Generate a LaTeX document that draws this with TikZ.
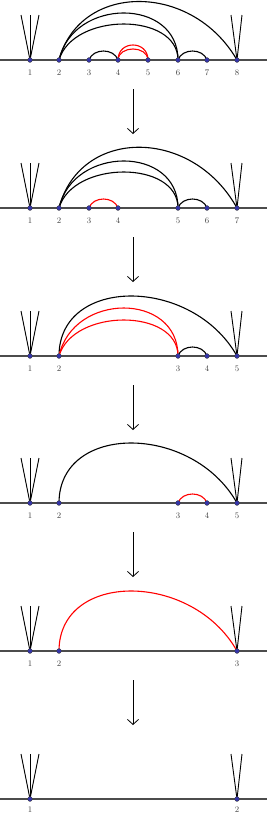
\documentclass[tikz,border=0pt]{standalone}
\usetikzlibrary{arrows.meta,calc}
\definecolor{dotblue}{RGB}{52,52,170}
\begin{document}
\begin{tikzpicture}[x=1pt,y=-1pt,
  dot/.style={circle,inner sep=0pt,minimum size=4.8pt,fill=dotblue,draw=black!75,line width=0.4pt},
  lab/.style={inner sep=0pt,text=black!75,font=\fontsize{8.5}{8.5}\selectfont},
  baseln/.style={draw=black!70,line width=1.3pt},
  arcb/.style={draw=black,line width=1.1pt},
  arcr/.style={draw=red,line width=1.1pt},
  vline/.style={draw=black,line width=0.9pt},
  steparrow/.style={draw=black,line width=0.8pt,-{Straight Barb[length=5pt,width=11pt,line width=0.8pt]}}]
\useasboundingbox (0,0) rectangle (267,815);

% ---------- baselines ----------
\foreach \yy/\nm in {60/A,208/B,356/C,503/D,651/E,799/F}{
  \coordinate (L\nm) at (0,\yy);
  \coordinate (R\nm) at (267,\yy);
  \draw[baseln] (L\nm) -- (R\nm);
}

% ---------- panel 1 ----------
\coordinate (a1) at (30,60); \coordinate (a2) at (59,60); \coordinate (a3) at (89,60);
\coordinate (a4) at (118,60); \coordinate (a5) at (148,60); \coordinate (a6) at (178,60);
\coordinate (a7) at (207,60); \coordinate (a8) at (237,60);
\draw[vline] (a1) -- ++(-9,-45); \draw[vline] (a1) -- ++(0,-45); \draw[vline] (a1) -- ++(9,-45);
\draw[vline] (a8) -- ++(-6,-45); \draw[vline] (a8) -- ++(5,-45);
\draw[arcb] (a2) .. controls +(21,-78) and +(-45,-78) .. (a8);
\draw[arcb] (a2) .. controls +(14,-62.7) and +(0,-62.7) .. (a6);
\draw[arcb] (a2) .. controls +(14,-48) and +(0,-48) .. (a6);
\draw[arcb] (a3) .. controls +(4,-12) and +(-4,-12) .. (a4);
\draw[arcr] (a4) .. controls +(0,-20) and +(0,-20) .. (a5);
\draw[arcr] (a4) .. controls +(1,-14.7) and +(-1,-14.7) .. (a5);
\draw[arcb] (a6) .. controls +(4,-12) and +(-4,-12) .. (a7);
\foreach \i in {1,...,8}{
  \node[dot] (da\i) at (a\i) {};
  \node[lab] (la\i) at ($(a\i)+(0,12.5)$) {\i};
}

% ---------- panel 2 ----------
\coordinate (b1) at (30,208); \coordinate (b2) at (59,208); \coordinate (b3) at (89,208);
\coordinate (b4) at (118,208); \coordinate (b5) at (178,208); \coordinate (b6) at (207,208);
\coordinate (b7) at (237,208);
\draw[vline] (b1) -- ++(-9,-45); \draw[vline] (b1) -- ++(0,-45); \draw[vline] (b1) -- ++(9,-45);
\draw[vline] (b7) -- ++(-6,-45); \draw[vline] (b7) -- ++(5,-45);
\draw[arcb] (b2) .. controls +(21,-81) and +(-45,-81) .. (b7);
\draw[arcb] (b2) .. controls +(14,-62.7) and +(0,-62.7) .. (b5);
\draw[arcb] (b2) .. controls +(14,-48) and +(0,-48) .. (b5);
\draw[arcr] (b3) .. controls +(4,-12) and +(-4,-12) .. (b4);
\draw[arcb] (b5) .. controls +(4,-12) and +(-4,-12) .. (b6);
\foreach \i in {1,...,7}{
  \node[dot] (db\i) at (b\i) {};
  \node[lab] (lb\i) at ($(b\i)+(0,12.5)$) {\i};
}

% ---------- panel 3 ----------
\coordinate (c1) at (30,356); \coordinate (c2) at (59,356); \coordinate (c3) at (178,356);
\coordinate (c4) at (207,356); \coordinate (c5) at (237,356);
\draw[vline] (c1) -- ++(-9,-45); \draw[vline] (c1) -- ++(0,-45); \draw[vline] (c1) -- ++(9,-45);
\draw[vline] (c5) -- ++(-6,-45); \draw[vline] (c5) -- ++(5,-45);
\draw[arcb] (c2) .. controls +(0,-80) and +(-45,-80) .. (c5);
\draw[arcr] (c2) .. controls +(14,-64) and +(0,-64) .. (c3);
\draw[arcr] (c2) .. controls +(14,-48) and +(0,-48) .. (c3);
\draw[arcb] (c3) .. controls +(4,-12) and +(-4,-12) .. (c4);
\foreach \i in {1,...,5}{
  \node[dot] (dc\i) at (c\i) {};
  \node[lab] (lc\i) at ($(c\i)+(0,12.5)$) {\i};
}

% ---------- panel 4 ----------
\coordinate (d1) at (30,503); \coordinate (d2) at (59,503); \coordinate (d3) at (178,503);
\coordinate (d4) at (207,503); \coordinate (d5) at (237,503);
\draw[vline] (d1) -- ++(-9,-45); \draw[vline] (d1) -- ++(0,-45); \draw[vline] (d1) -- ++(9,-45);
\draw[vline] (d5) -- ++(-6,-45); \draw[vline] (d5) -- ++(5,-45);
\draw[arcb] (d2) .. controls +(0,-80) and +(-45,-80) .. (d5);
\draw[arcr] (d3) .. controls +(4,-12) and +(-4,-12) .. (d4);
\foreach \i in {1,...,5}{
  \node[dot] (dd\i) at (d\i) {};
  \node[lab] (ld\i) at ($(d\i)+(0,12.5)$) {\i};
}

% ---------- panel 5 ----------
\coordinate (e1) at (30,651); \coordinate (e2) at (59,651); \coordinate (e3) at (237,651);
\draw[vline] (e1) -- ++(-9,-45); \draw[vline] (e1) -- ++(0,-45); \draw[vline] (e1) -- ++(9,-45);
\draw[vline] (e3) -- ++(-6,-45); \draw[vline] (e3) -- ++(5,-45);
\draw[arcr] (e2) .. controls +(0,-80) and +(-45,-80) .. (e3);
\foreach \i in {1,...,3}{
  \node[dot] (de\i) at (e\i) {};
  \node[lab] (le\i) at ($(e\i)+(0,12.5)$) {\i};
}

% ---------- panel 6 ----------
\coordinate (f1) at (30,799); \coordinate (f2) at (237,799);
\draw[vline] (f1) -- ++(-9,-45); \draw[vline] (f1) -- ++(0,-45); \draw[vline] (f1) -- ++(9,-45);
\draw[vline] (f2) -- ++(-6,-45); \draw[vline] (f2) -- ++(5,-45);
\foreach \i in {1,2}{
  \node[dot] (df\i) at (f\i) {};
  \node[lab] (lf\i) at ($(f\i)+(0,11)$) {\i};
}

% ---------- arrows ----------
\foreach \yy/\nm in {60/1,208/2,356/3,503/4,651/5}{
  \coordinate (s\nm) at (133,\yy+29);
  \coordinate (t\nm) at (133,\yy+74);
  \draw[steparrow] (s\nm) -- (t\nm);
}
\end{tikzpicture}
\end{document}
